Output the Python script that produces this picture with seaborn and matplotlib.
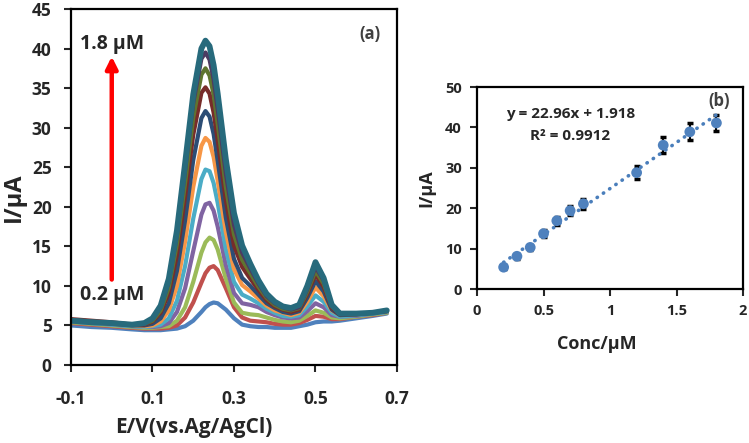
import numpy as np
import pandas as pd
import matplotlib
matplotlib.use("Agg")
import matplotlib.pyplot as plt
import seaborn as sns

# ---- DPV curves (panel a) ----
e_v = [-0.10, -0.05, 0.00, 0.05, 0.08, 0.10, 0.12, 0.14, 0.16, 0.18, 0.20, 0.22, 0.23,
       0.24, 0.25, 0.26, 0.28, 0.30, 0.32, 0.34, 0.36, 0.38, 0.40, 0.42, 0.44, 0.46,
       0.48, 0.50, 0.52, 0.54, 0.56, 0.60, 0.64, 0.675]

i_02 = [5.0, 4.8, 4.7, 4.5, 4.4, 4.4, 4.4, 4.5, 4.6, 4.9, 5.6, 6.7, 7.3, 7.7, 7.9, 7.8, 7.0,
        5.9, 5.1, 4.9, 4.8, 4.8, 4.7, 4.7, 4.7, 4.9, 5.1, 5.4, 5.5, 5.5, 5.6, 5.9, 6.2, 6.5]
i_03 = [5.3, 5.1, 4.9, 4.7, 4.6, 4.6, 4.6, 4.7, 5.0, 6.0, 7.9, 10.4, 11.6, 12.3, 12.5, 12.0,
        9.7, 7.3, 6.0, 5.6, 5.5, 5.4, 5.2, 5.1, 5.1, 5.3, 5.7, 6.2, 6.1, 5.8, 5.8, 6.1, 6.3, 6.6]
i_04 = [5.4, 5.2, 5.0, 4.8, 4.7, 4.7, 4.8, 4.9, 5.6, 7.3, 10.5, 14.2, 15.5, 16.1, 15.8, 14.6,
        10.9, 7.9, 6.6, 6.4, 6.3, 6.0, 5.7, 5.5, 5.4, 5.6, 6.2, 6.9, 6.6, 6.0, 5.9, 6.1, 6.4, 6.6]
i_05 = [5.5, 5.3, 5.1, 4.9, 4.8, 4.8, 4.9, 5.3, 6.7, 9.7, 14.4, 19.0, 20.3, 20.5, 19.5, 17.5,
        12.6, 9.1, 7.8, 7.6, 7.3, 6.7, 6.3, 6.0, 5.9, 6.0, 6.8, 7.8, 7.3, 6.3, 6.1, 6.2, 6.5, 6.7]
i_06 = [5.5, 5.3, 5.1, 4.9, 4.8, 4.9, 5.1, 5.9, 8.1, 12.5, 18.5, 23.5, 24.7, 24.5, 23.0, 20.5,
        14.6, 10.5, 8.9, 8.4, 7.8, 7.1, 6.6, 6.2, 6.1, 6.3, 7.4, 8.8, 8.0, 6.6, 6.1, 6.3, 6.5, 6.7]
i_07 = [5.6, 5.4, 5.2, 5.0, 4.9, 5.0, 5.5, 6.9, 10.0, 15.6, 22.5, 27.7, 28.7, 28.2, 26.3, 23.3,
        16.8, 12.1, 10.1, 9.3, 8.4, 7.5, 6.9, 6.6, 6.3, 6.6, 8.0, 9.8, 8.7, 6.9, 6.3, 6.4, 6.6, 6.8]
i_08 = [5.6, 5.4, 5.2, 5.0, 5.0, 5.2, 5.9, 7.8, 11.9, 18.3, 25.9, 31.2, 32.1, 31.4, 29.2, 25.8,
        18.6, 13.4, 11.0, 10.0, 8.9, 7.8, 7.2, 6.7, 6.5, 6.8, 8.5, 10.6, 9.3, 7.0, 6.3, 6.4, 6.6, 6.8]
i_12 = [5.8, 5.6, 5.4, 5.1, 5.1, 5.5, 6.6, 9.1, 13.9, 21.3, 29.1, 34.4, 35.1, 34.3, 31.9, 28.4,
        20.8, 15.1, 12.4, 10.9, 9.5, 8.2, 7.4, 7.0, 6.7, 7.0, 9.0, 11.4, 9.9, 7.2, 6.4, 6.4, 6.6, 6.8]
i_14 = [5.7, 5.5, 5.3, 5.1, 5.2, 5.6, 6.9, 9.8, 15.3, 23.0, 31.3, 36.7, 37.5, 36.6, 34.2, 30.5,
        22.5, 16.5, 13.3, 11.6, 9.9, 8.5, 7.6, 7.1, 6.9, 7.2, 9.3, 11.9, 10.3, 7.4, 6.5, 6.5, 6.6, 6.9]
i_16 = [5.7, 5.5, 5.3, 5.1, 5.2, 5.8, 7.3, 10.5, 16.4, 24.6, 33.1, 38.7, 39.5, 38.6, 36.1, 32.3,
        24.2, 17.7, 14.2, 12.2, 10.3, 8.7, 7.8, 7.3, 7.0, 7.3, 9.6, 12.4, 10.7, 7.5, 6.5, 6.5, 6.6, 6.9]
i_18 = [5.6, 5.4, 5.3, 5.1, 5.3, 5.9, 7.5, 10.9, 17.0, 25.5, 34.2, 40.0, 41.0, 40.3, 37.9, 34.3,
        26.0, 19.2, 15.1, 12.8, 10.7, 9.0, 8.0, 7.4, 7.2, 7.6, 10.0, 13.0, 11.0, 7.6, 6.5, 6.5, 6.6, 6.9]

curves = [i_02, i_03, i_04, i_05, i_06, i_07, i_08, i_12, i_14, i_16, i_18]
curve_colors = ["#4F81BD", "#C0504D", "#9BBB59", "#8064A2", "#4BACC6", "#F79646",
                "#2C4D75", "#772C2A", "#5F7530", "#4D3B62", "#276A7C"]

# ---- calibration (panel b) ----
conc = [0.2, 0.3, 0.4, 0.5, 0.6, 0.7, 0.8, 1.2, 1.4, 1.6, 1.8]
peak_i = [5.4, 8.1, 10.3, 13.7, 16.9, 19.4, 21.1, 28.8, 35.6, 38.9, 41.1]
peak_err = [0.5, 0.6, 0.7, 0.8, 1.0, 1.2, 1.2, 1.6, 2.0, 2.1, 2.0]

sns.set_style("ticks")
plt.rcParams["font.family"] = ["Open Sans", "DejaVu Sans"]
plt.rcParams["font.weight"] = "bold"
plt.rcParams["axes.labelweight"] = "bold"

fig = plt.figure(figsize=(7.49, 4.43), dpi=100)
ax1 = fig.add_axes([0.0948, 0.1761, 0.4352, 0.8036])
ax2 = fig.add_axes([0.6369, 0.3476, 0.3551, 0.456])

# ---- panel (a) ----
for vals, col in zip(curves, curve_colors):
    lw = 4.2 if col == "#276A7C" else 3.0
    sns.lineplot(x=e_v, y=vals, color=col, lw=lw, ax=ax1, sort=False,
                 solid_capstyle="round", solid_joinstyle="round")

ax1.set_xlim(-0.1, 0.7)
ax1.set_ylim(0, 45)
ax1.set_xticks([-0.1, 0.1, 0.3, 0.5, 0.7])
ax1.set_xticklabels(["-0.1", "0.1", "0.3", "0.5", "0.7"])
ax1.set_yticks(range(0, 50, 5))
ax1.tick_params(axis="x", pad=13)
ax1.tick_params(axis="y", pad=9)
ax1.tick_params(direction="out", length=5, width=1.5, labelsize=12.5)
for s in ax1.spines.values():
    s.set_linewidth(1.6)
    s.set_color("black")
ax1.set_xlabel("E/V(vs.Ag/AgCl)", fontsize=15, fontweight="bold")
ax1.xaxis.set_label_coords(0.377, -0.175)
ax1.xaxis.label.set_va("center")
ax1.set_ylabel("I/µA", fontsize=17, fontweight="bold")
ax1.yaxis.set_label_coords(-0.175, 0.472)
ax1.yaxis.label.set_va("center")

ax1.annotate("", xy=(0.0, 39.0), xytext=(0.0, 10.8),
             arrowprops=dict(arrowstyle="-|>,head_length=0.7,head_width=0.35",
                             color="#FF0000", lw=3.2, shrinkA=0, shrinkB=0))
ax1.text(-0.078, 40.6, "1.8 µM", fontsize=14, fontweight="bold", ha="left", va="center")
ax1.text(-0.078, 8.9, "0.2 µM", fontsize=14, fontweight="bold", ha="left", va="center")
ax1.text(0.634, 41.9, "(a)", fontsize=12, fontweight="bold", color="#404040",
         ha="center", va="center")

# ---- panel (b) ----
ax2.errorbar(conc, peak_i, yerr=peak_err, fmt="none", ecolor="black",
             elinewidth=1.5, capsize=2.5, capthick=2.5, zorder=2)
sns.regplot(x=conc, y=peak_i, ci=None, scatter=False, ax=ax2, color="#4A7EBB",
            line_kws=dict(ls=(0, (0.1, 2.0)), lw=2.6, dash_capstyle="round", zorder=3))
sns.scatterplot(x=conc, y=peak_i, color="#4F81BD", s=60, edgecolor="none", ax=ax2, zorder=4)

ax2.set_xlim(0, 2)
ax2.set_ylim(0, 50)
ax2.set_xticks([0, 0.5, 1, 1.5, 2])
ax2.set_xticklabels(["0", "0.5", "1", "1.5", "2"])
ax2.set_yticks(range(0, 60, 10))
ax2.tick_params(direction="out", length=5, width=1.5, labelsize=10.5, pad=6)
for s in ax2.spines.values():
    s.set_linewidth(1.6)
    s.set_color("black")
ax2.set_xlabel("Conc/µM", fontsize=13, fontweight="bold")
ax2.xaxis.set_label_coords(0.45, -0.27)
ax2.xaxis.label.set_va("center")
ax2.set_ylabel("I/µA", fontsize=13, fontweight="bold")
ax2.yaxis.set_label_coords(-0.19, 0.5)
ax2.yaxis.label.set_va("center")

ax2.text(0.70, 43.2, "y = 22.96x + 1.918", fontsize=11, fontweight="bold",
         ha="center", va="center")
ax2.text(0.70, 37.8, "R² = 0.9912", fontsize=11, fontweight="bold",
         ha="center", va="center")
ax2.text(1.82, 46.5, "(b)", fontsize=12, fontweight="bold", color="#404040",
         ha="center", va="center")

plt.savefig("out.png", dpi=100)
